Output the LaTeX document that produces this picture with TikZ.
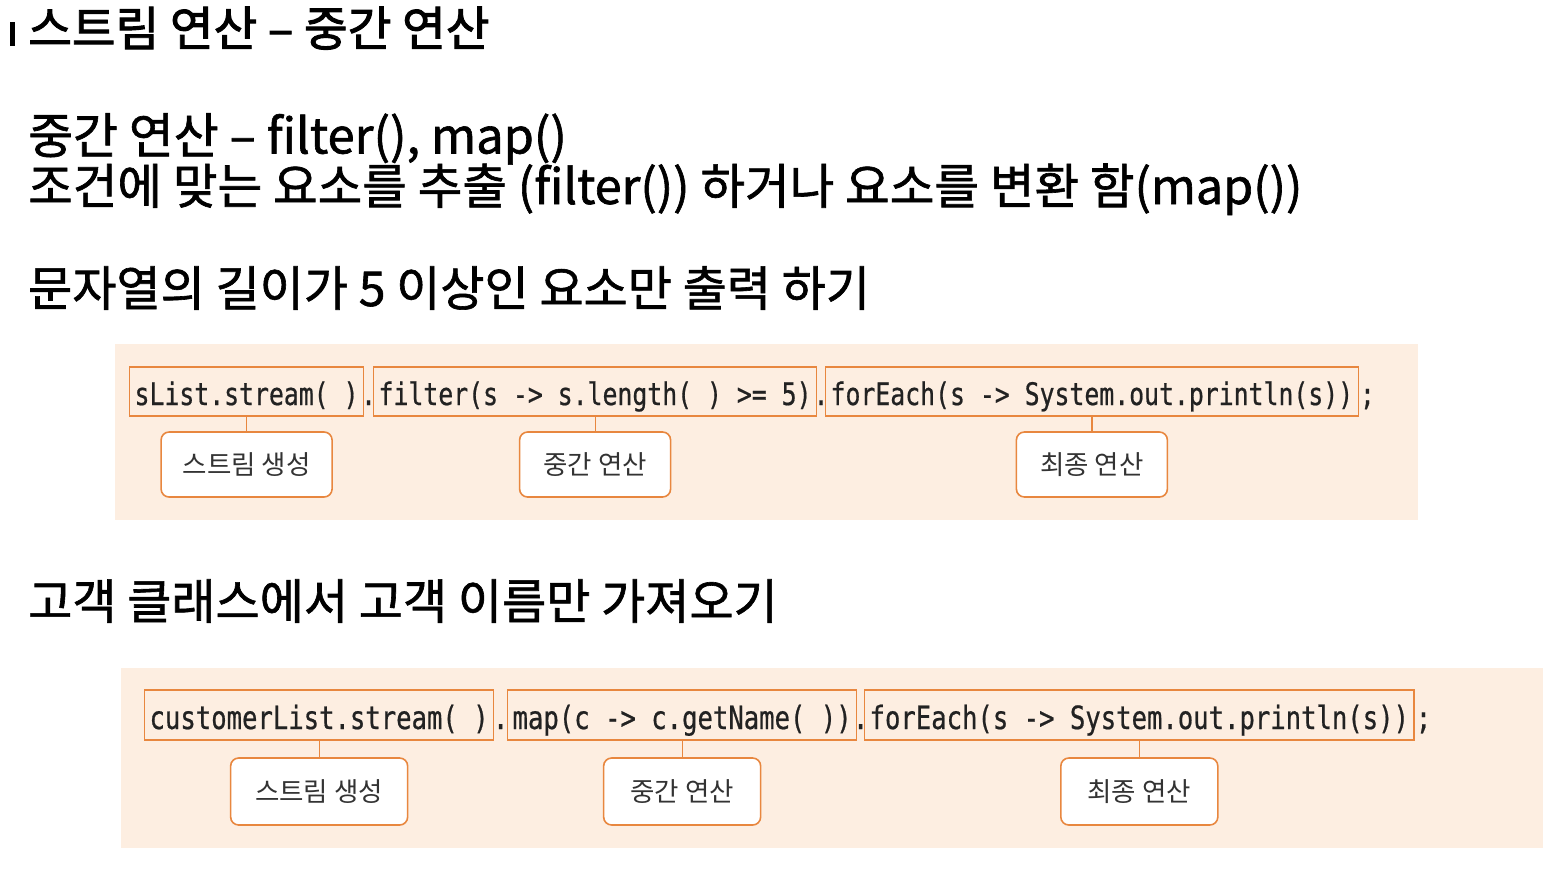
\documentclass[tikz,border=0pt]{standalone}
\usepackage{fontspec}
\setmainfont{Noto Sans CJK KR}
\newfontfamily\kofont[FakeBold=1.3]{Noto Sans CJK KR}
\newfontfamily\kotitle[FakeBold=2]{Noto Sans CJK KR}
\newfontfamily\kolabel{Noto Sans CJK KR}
\newfontfamily\codefont[FakeStretch=0.80, FakeBold=0.6]{DejaVu Sans Mono}
\usetikzlibrary{positioning, calc}
\definecolor{panelbg}{HTML}{FDEEE1}
\definecolor{boxline}{HTML}{E8873F}
\definecolor{codeink}{HTML}{222222}
\definecolor{labelink}{HTML}{333333}
\tikzset{
  heading/.style={anchor=base west, inner sep=0pt, font=\kofont\fontsize{48}{52}\selectfont},
  codebox/.style={draw=boxline, line width=1.2pt, anchor=base west, inner xsep=5pt, inner ysep=8pt,
    text height=30pt, text depth=3pt, text=codeink},
  codedot/.style={anchor=base, inner sep=0pt, text=codeink},
  stagebox/.style={draw=boxline, fill=white, line width=1.6pt, rounded corners=8pt,
    minimum width=171pt, minimum height=65pt, text=labelink, font=\kolabel\fontsize{26.5}{30}\selectfont},
  stagelink/.style={draw=boxline, line width=1.2pt}
}
\begin{document}
\begin{tikzpicture}[x=1pt, y=-1pt]
    \useasboundingbox (0,0) rectangle (1561,868);
    \fill[white] (0,0) rectangle (1561,868);
    % headings
    \fill (10,22) rectangle (15,46);
    \node[heading, font=\kotitle\fontsize{47.5}{50}\selectfont] (title) at (28,46) {스트림 연산 – 중간 연산};
    \node[heading, font=\kofont\fontsize{48.8}{52}\selectfont] (sub) at (28,153.5) {중간 연산 – filter(), map()};
    \node[heading, font=\kofont\fontsize{48.5}{52}\selectfont] (desc) at (28,204) {조건에 맞는 요소를 추출 (filter()) 하거나 요소를 변환 함(map())};
    \node[heading] (taskA) at (28,306) {문자열의 길이가 5 이상인 요소만 출력 하기};
    \node[heading] (taskB) at (28,619) {고객 클래스에서 고객 이름만 가져오기};

    % first pipeline
    \fill[panelbg] (115,344) rectangle (1418,520);
    \begin{scope}[font=\codefont\fontsize{31}{34}\selectfont]
    \node[codebox] (srcA) at (129,405) {sList.stream( )};
    \node[codebox] (midA) at (373,405) {filter(s -> s.length( ) >= 5)};
    \node[codebox] (endA) at (825,405) {forEach(s -> System.out.println(s))};
    \node[codedot] at ($(srcA.base east)!0.5!(midA.base west)$) {.};
    \node[codedot] at ($(midA.base east)!0.5!(endA.base west)$) {.};
    \node[codedot, anchor=base west, xshift=1pt] at (endA.base east) {;};
    \end{scope}
    \node[stagebox] (mkA) at (srcA.south |- 0,464.5) {스트림 생성};
    \node[stagebox, minimum width=151pt] (opA) at (midA.south |- 0,464.5) {중간 연산};
    \node[stagebox, minimum width=151pt] (fnA) at (endA.south |- 0,464.5) {최종 연산};
    \draw[stagelink] (srcA) -- (mkA);
    \draw[stagelink] (midA) -- (opA);
    \draw[stagelink] (endA) -- (fnA);

    % second pipeline
    \fill[panelbg] (121,668) rectangle (1543,848);
    \begin{scope}[font=\codefont\fontsize{32}{35}\selectfont]
    \node[codebox, text height=31pt] (srcB) at (144,729) {customerList.stream( )};
    \node[codebox, text height=31pt] (midB) at (507,729) {map(c -> c.getName( ))};
    \node[codebox, text height=31pt] (endB) at (864,729) {forEach(s -> System.out.println(s))};
    \node[codedot] at ($(srcB.base east)!0.5!(midB.base west)$) {.};
    \node[codedot] at ($(midB.base east)!0.5!(endB.base west)$) {.};
    \node[codedot, anchor=base west, xshift=1pt] at (endB.base east) {;};
    \end{scope}
    \node[stagebox, minimum width=177pt, minimum height=67pt] (mkB) at (srcB.south |- 0,791.5) {스트림 생성};
    \node[stagebox, minimum width=157pt, minimum height=67pt] (opB) at (midB.south |- 0,791.5) {중간 연산};
    \node[stagebox, minimum width=157pt, minimum height=67pt] (fnB) at (endB.south |- 0,791.5) {최종 연산};
    \draw[stagelink] (srcB) -- (mkB);
    \draw[stagelink] (midB) -- (opB);
    \draw[stagelink] (endB) -- (fnB);
\end{tikzpicture}
\end{document}
